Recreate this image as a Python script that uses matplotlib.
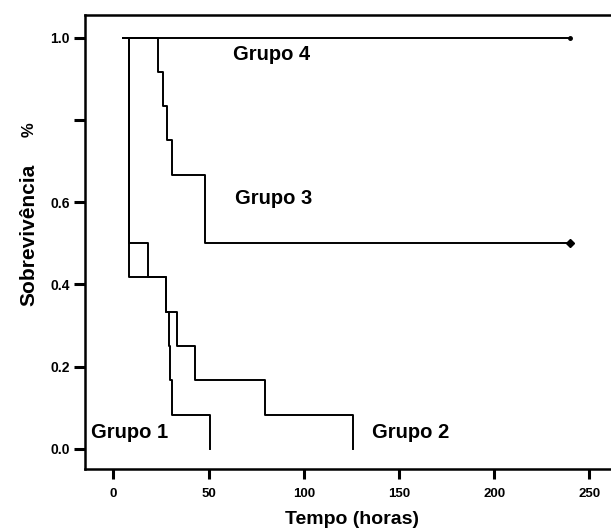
import matplotlib
matplotlib.use("Agg")
import matplotlib.pyplot as plt

plt.rcParams['font.family'] = ['Liberation Sans', 'DejaVu Sans']

# Kaplan-Meier step data (time in hours, survival fraction)
g1_times = [5, 8, 27.7, 29, 30, 31, 51]
g1_surv = [1.0, 0.417, 0.333, 0.25, 0.167, 0.083, 0.0]

g2_times = [5, 8, 18.4, 27.7, 33.3, 42.9, 79.6, 125.9]
g2_surv = [1.0, 0.5, 0.417, 0.333, 0.25, 0.167, 0.083, 0.0]

g3_times = [5, 23.5, 26, 28.4, 30.7, 48.2, 240]
g3_surv = [1.0, 0.917, 0.833, 0.75, 0.667, 0.5, 0.5]

g4_times = [5, 240]
g4_surv = [1.0, 1.0]

group_labels = ["Grupo 1", "Grupo 2", "Grupo 3", "Grupo 4"]
label_pos = [(-11.5, 0.04), (136, 0.04), (64, 0.608), (63, 0.96)]

x_ticks = [0, 50, 100, 150, 200, 250]
x_ticklabels = ["0", "50", "100", "150", "200", "250"]
y_ticks = [0.0, 0.2, 0.4, 0.6, 0.8, 1.0]
y_ticklabels = ["0.0", "0.2", "0.4", "0.6", "", "1.0"]

fig = plt.figure(figsize=(6.11, 5.31), dpi=100)
ax = fig.add_axes([85/611, 1 - 469/531, 1 - 85/611, (469 - 15)/531])

lw = 1.4
for t, s in [(g1_times, g1_surv), (g2_times, g2_surv), (g3_times, g3_surv), (g4_times, g4_surv)]:
    ax.step(t, s, where='post', color='black', lw=lw)

# censor marks at the end of groups 3 and 4
ax.plot([g3_times[-1]], [g3_surv[-1]], marker='D', ms=4, color='black')
ax.plot([g4_times[-1]], [g4_surv[-1]], marker='o', ms=2.5, color='black')

for lab, (x, y) in zip(group_labels, label_pos):
    ax.text(x, y, lab, fontsize=14.5, fontweight='bold', ha='left', va='center')

ax.set_xlim(-14.9, 261.4)
ax.set_ylim(-0.049, 1.055)
ax.set_xticks(x_ticks)
ax.set_xticklabels(x_ticklabels)
ax.set_yticks(y_ticks)
ax.set_yticklabels(y_ticklabels)

for sp in ['left', 'bottom', 'top']:
    ax.spines[sp].set_linewidth(1.8)
ax.spines['right'].set_visible(False)

ax.tick_params(axis='y', direction='out', length=8, width=2.2, pad=3, labelsize=10)
ax.tick_params(axis='x', direction='out', length=7, width=2.2, pad=7, labelsize=9.5)
for lab in ax.get_xticklabels() + ax.get_yticklabels():
    lab.set_fontweight('bold')

fig.text(352/611, 1 - 520/531, "Tempo (horas)", fontsize=14, fontweight='bold',
         ha='center', va='center')
fig.text(29/611, 1 - 235/531, "Sobrevivência", fontsize=15, fontweight='bold',
         ha='center', va='center', rotation=90)
fig.text(29/611, 1 - 130/531, "%", fontsize=12, fontweight='bold',
         ha='center', va='center', rotation=90)

fig.savefig("out.png", dpi=100)
